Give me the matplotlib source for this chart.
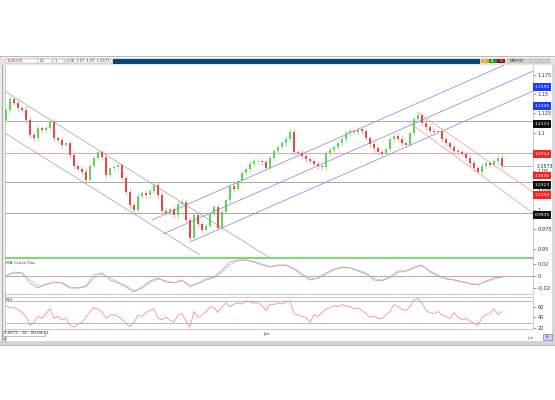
import matplotlib
matplotlib.use('Agg')
import matplotlib.pyplot as plt
from matplotlib.patches import Rectangle
from matplotlib.transforms import blended_transform_factory

# ---------------- data ----------------
first_open = 1.1164
closes = [
    1.1294, 1.1436, 1.1384, 1.1320, 1.1294, 1.1164, 1.0970, 1.0931, 1.1061, 1.1035,
    1.1061, 1.1138, 1.0931, 1.0906, 1.0841, 1.0867, 1.0712, 1.0569, 1.0530, 1.0492,
    1.0388, 1.0569, 1.0673, 1.0750, 1.0686, 1.0453, 1.0543, 1.0556, 1.0582, 1.0414,
    1.0233, 1.0065, 1.0000, 1.0181, 1.0220, 1.0194, 1.0246, 1.0323, 1.0194, 0.9987,
    0.9961, 1.0013, 0.9935, 1.0078, 1.0103, 0.9871, 0.9638, 0.9935, 0.9819, 0.9741,
    0.9793, 0.9948, 1.0039, 0.9767, 0.9974, 1.0129, 1.0310, 1.0272, 1.0375, 1.0479,
    1.0530, 1.0595, 1.0634, 1.0634, 1.0621, 1.0543, 1.0673, 1.0763, 1.0815, 1.0867,
    1.0919, 1.1009, 1.0750, 1.0737, 1.0699, 1.0660, 1.0634, 1.0595, 1.0569, 1.0556,
    1.0737, 1.0776, 1.0815, 1.0867, 1.0919, 1.0996, 1.1022, 1.1009, 1.1048, 1.1022,
    1.0931, 1.0854, 1.0802, 1.0750, 1.0724, 1.0789, 1.0919, 1.0957, 1.0919, 1.0867,
    1.0841, 1.0996, 1.1177, 1.1229, 1.1126, 1.1074, 1.1022, 1.1009, 1.1022, 1.0919,
    1.0867, 1.0815, 1.0763, 1.0750, 1.0724, 1.0673, 1.0608, 1.0543, 1.0492, 1.0569,
    1.0608, 1.0582, 1.0634, 1.0673, 1.0569,
]
wick_pips = [
    30, 40, 25, 35, 30, 45, 50, 35, 40, 30, 35, 45, 40, 30, 35, 30, 45, 35, 30, 40, 45, 35, 30, 40, 35,
    45, 30, 35, 40, 30, 45, 50, 40, 35, 30, 40, 35, 30, 45, 35, 40, 30, 35, 45, 50, 40, 35, 30, 45, 40,
    35, 30, 40, 45, 35, 30, 35, 40, 30, 35, 30, 45, 40, 35, 30, 35, 40, 45, 30, 35, 50, 40, 35, 30, 35,
    40, 30, 45, 35, 30, 40, 35, 30, 35, 40, 45, 35, 30, 40, 35, 30, 45, 50, 40, 35, 30, 35, 40, 30, 45,
    35, 30, 40, 35, 30, 45, 35, 40, 30, 35, 40, 30, 45, 35, 30, 40, 35, 45, 30, 35, 40, 30, 35, 40, 45,
]
osc_main = [
    0.0, 0.0067, 0.005, -0.0117, -0.02, -0.0133, -0.01, -0.0117, -0.02, -0.02,
    -0.0167, 0.0017, 0.005, -0.0067, -0.0117, -0.0183, -0.0267, -0.0183, -0.0083, -0.0033,
    -0.01, -0.0117, -0.0067, -0.0183, -0.0117, -0.005, -0.0017, 0.01, 0.0233, 0.0267,
    0.0267, 0.0233, 0.0183, 0.015, 0.0183, 0.0183, 0.0117, 0.0017, -0.0067, -0.0033,
    0.005, 0.0117, 0.015, 0.0133, 0.0083, 0.0033, -0.0067, -0.0083, -0.0017, 0.0083,
    0.0083, 0.015, 0.0183, 0.0067, 0.0, -0.005, -0.0067, -0.01, -0.0133, -0.015,
    -0.0083, -0.0033, -0.0017,
]
osc_signal = [
    0.002, 0.004, 0.005, -0.006, -0.016, -0.015, -0.011, -0.011, -0.018, -0.020,
    -0.018, -0.004, 0.003, -0.003, -0.010, -0.016, -0.024, -0.021, -0.011, -0.005,
    -0.008, -0.011, -0.008, -0.015, -0.013, -0.007, -0.003, 0.006, 0.019, 0.025,
    0.027, 0.024, 0.020, 0.016, 0.017, 0.018, 0.013, 0.004, -0.004, -0.004,
    0.003, 0.010, 0.014, 0.014, 0.010, 0.005, -0.004, -0.007, -0.003, 0.006,
    0.008, 0.013, 0.017, 0.009, 0.002, -0.004, -0.006, -0.009, -0.012, -0.014,
    -0.010, -0.005, -0.002,
]
rsi = [
    62, 58, 58, 55, 49, 42, 25, 31, 42, 38,
    47, 56, 38, 42, 35, 38, 25, 22, 27, 31,
    40, 51, 58, 55, 51, 38, 44, 45, 42, 36,
    29, 22, 31, 44, 42, 49, 53, 56, 38, 36,
    40, 35, 31, 44, 47, 33, 22, 51, 40, 44,
    51, 60, 58, 49, 60, 67, 60, 65, 67, 65,
    71, 69, 67, 67, 62, 53, 65, 64, 67, 65,
    69, 71, 47, 44, 42, 40, 31, 45, 42, 49,
    56, 58, 62, 60, 64, 62, 60, 56, 58, 53,
    47, 40, 42, 38, 38, 45, 51, 64, 60, 55,
    53, 60, 73, 75, 67, 53, 49, 47, 51, 44,
    42, 38, 49, 40, 35, 38, 33, 29, 25, 40,
    45, 47, 56, 45, 51,
]
price_ticks = [1.175, 1.15, 1.125, 1.1, 1.05, 1.025, 1.0, 0.975, 0.95]
price_tick_labels = ['1.175', '1.15', '1.125', '1.1', '1.05', '1.025', '1', '0.975', '0.95']
gray_levels = [1.1151, 1.0362, 0.9961]
pink_levels = [1.0737]
last_price = 1.0569
last_price_label = '1.0573'
# channel lines: (index0, price0, index1, price1)
gray_channel = [(-0.75, 1.1552, 66.0, 0.9379), (-0.75, 1.1009, 48.5, 0.9418)]
blue_channel = [(36.5, 0.9871, 131.75, 1.2039), (39.25, 0.9690, 131.75, 1.1796),
                (46.0, 0.9586, 131.75, 1.1538)]
red_channel = [(102.75, 1.1268, 131.75, 1.0233), (101.0, 1.1125, 131.75, 0.9961)]
box_prices = [1.1591, 1.1345, 1.1113, 1.0724, 1.0446, 1.0323, 1.0194, 0.9935]
box_texts = ['1.1591', '1.1345', '1.1113', '1.0724', '1.0446', '1.0323', '1.0194', '0.9935']
box_colors = ['#1a3cff', '#1a3cff', '#111111', '#ff2020', '#ff2020', '#111111', '#ff2020', '#111111']
osc_ticks = [0.02, 0.0, -0.02]
osc_tick_labels = ['0.02', '0', '-0.02']
rsi_levels = [70, 30]
rsi_ticks = [60, 40, 20]
rsi_tick_labels = ['60', '40', '20']

# ---------------- figure ----------------
W, H = 555, 400
fig = plt.figure(figsize=(W / 100, H / 100), dpi=100)
fig.patch.set_facecolor('white')


def frect(x0, y0, x1, y1, z=-10, **kw):
    fig.patches.append(Rectangle((x0 / W, 1 - y1 / H), (x1 - x0) / W, (y1 - y0) / H,
                                 transform=fig.transFigure, figure=fig, zorder=z, **kw))


def ftext(x, y, s, **kw):
    fig.text(x / W, 1 - y / H, s, zorder=20, **kw)


def fvline(x, y0, y1, color, lw):
    fig.lines.append(plt.Line2D([x / W, x / W], [1 - y0 / H, 1 - y1 / H], transform=fig.transFigure,
                                color=color, lw=lw, zorder=-9))


# window chrome
frect(0, 56, 555, 345, facecolor='#f4f4f4', edgecolor='#b0b0b0', lw=0.6)
frect(0, 57.5, 555, 64.5, facecolor='#e2e2e2', edgecolor='none')
frect(113, 59, 480, 63.5, facecolor='#0b4476', edgecolor='none')
for (a, b, t, col) in [(6, 38, 'EURUSD', '#cc2222'), (38, 52, 'D1', '#333333'),
                       (53, 64, '1', '#333333'), (65, 112, '1.08  1.07  1.07  1.0577', '#333333')]:
    frect(a, 59.3, b, 63.3, facecolor='white', edgecolor='#a0a0a0', lw=0.3)
    ftext(a + 1.5, 61.3, t, fontsize=2.6, color=col, va='center', ha='left')
for (a, col, t) in [(481, '#f0a030', 'F'), (489, '#2f8f2f', 'A'), (497, '#8a1818', 'H')]:
    frect(a, 59.3, a + 7.5, 63.3, facecolor=col, edgecolor='none')
    ftext(a + 3.7, 61.3, t, fontsize=2.6, color='white', va='center', ha='center')
frect(507, 59.3, 527, 63.3, facecolor='#d8d8d8', edgecolor='#a0a0a0', lw=0.3)
ftext(517, 61.3, 'MATRIX', fontsize=2.8, color='#333333', va='center', ha='center')
frect(529, 59.3, 539, 63.3, facecolor='#d0d0d0', edgecolor='#a0a0a0', lw=0.3)
frect(540, 59.3, 550, 63.3, facecolor='#d0d0d0', edgecolor='#a0a0a0', lw=0.3)
# chart background
frect(5, 64.5, 552, 341, facecolor='white', edgecolor='none')
frect(0, 64.5, 5, 341, facecolor='#ececec', edgecolor='none')
frect(552, 64.5, 555, 341, facecolor='#d8d8d8', edgecolor='none')
fvline(1.5, 64.5, 341, '#9a9a9a', 0.6)
fvline(5, 64.5, 341, '#9a9a9a', 0.6)
frect(0, 340.5, 555, 345, facecolor='#d4d4d4', edgecolor='none')

XL, XR = 5, 533
xmin, xmax = -0.25, 131.75


def make_ax(y0, y1):
    ax = fig.add_axes([XL / W, 1 - y1 / H, (XR - XL) / W, (y1 - y0) / H])
    ax.set_zorder(5)
    ax.set_facecolor('white')
    ax.set_xlim(xmin, xmax)
    ax.set_xticks([])
    ax.yaxis.tick_right()
    ax.tick_params(axis='y', direction='out', length=2, width=0.4, labelsize=3.6,
                   colors='#555555', labelcolor='#333333', pad=1.5)
    for s in ax.spines.values():
        s.set_color('#b8b8b8')
        s.set_linewidth(0.5)
    return ax


# ---------------- main price panel ----------------
ax = make_ax(65, 257)
ax.set_ylim(0.9392, 1.18758)
ax.set_yticks(price_ticks)
ax.set_yticklabels(price_tick_labels)
ax.spines['bottom'].set_color('#7fd67f')
ax.spines['bottom'].set_linewidth(0.8)
ax.spines['top'].set_visible(False)

for lv in gray_levels:
    ax.axhline(lv, color='#a8a8a8', lw=0.7, zorder=1)
for lv in pink_levels:
    ax.axhline(lv, color='#f4a0a0', lw=0.7, zorder=1)
for (i0, p0, i1, p1) in gray_channel:
    ax.plot([i0, i1], [p0, p1], color='#a8a8a8', lw=0.55, zorder=1)
for (i0, p0, i1, p1) in blue_channel:
    ax.plot([i0, i1], [p0, p1], color='#8a8af0', lw=0.55, zorder=1)
for (i0, p0, i1, p1) in red_channel:
    ax.plot([i0, i1], [p0, p1], color='#f2a0a0', lw=0.55, zorder=1)

for i, c in enumerate(closes):
    o = first_open if i == 0 else closes[i - 1]
    up = c >= o
    col = '#5ad65a' if up else '#e84848'
    wcol = '#a8e8a8' if up else '#f2a8a8'
    lo, hi = min(o, c), max(o, c)
    w = wick_pips[i] / 10000.0
    ax.vlines(i, lo - w, hi + w, color=wcol, lw=0.6, zorder=2)
    ax.add_patch(Rectangle((i - 0.26, lo), 0.52, max(hi - lo, 0.0005), facecolor=col,
                           edgecolor='none', zorder=3))

n = len(closes)
ax.hlines(last_price, n - 1, xmax, color='#a0a0a0', lw=0.5, zorder=1)

tr = blended_transform_factory(ax.transAxes, ax.transData)
for p, t, col in zip(box_prices, box_texts, box_colors):
    ax.text(1.003, p, t, transform=tr, fontsize=3.2, color='white', va='center', ha='left',
            bbox=dict(boxstyle='square,pad=0.35', facecolor=col, edgecolor='none'), clip_on=False,
            zorder=10)
ax.text(1.006, last_price, last_price_label, transform=tr, fontsize=3.4, color='#333333',
        va='center', ha='left', clip_on=False)

# ---------------- MA Cross Osc ----------------
ax2 = make_ax(258, 294)
ax2.set_ylim(-0.03, 0.03)
ax2.set_yticks(osc_ticks)
ax2.set_yticklabels(osc_tick_labels)
ax2.spines['top'].set_color('#7fd67f')
ax2.spines['top'].set_linewidth(0.8)
ax2.axhline(0.0, color='#c89090', lw=0.6)
xo = [2 * k for k in range(len(osc_main))]
ax2.plot(xo, osc_signal, color='#7fe3e3', lw=0.6)
ax2.plot(xo, osc_main, color='#f29090', lw=0.6)
ax2.text(0.002, 0.93, 'MA Cross Osc', transform=ax2.transAxes, fontsize=3.2, color='#444444',
         va='top', ha='left')

# ---------------- RSI ----------------
ax3 = make_ax(297, 329)
ax3.set_ylim(18.2, 78.2)
ax3.set_yticks(rsi_ticks)
ax3.set_yticklabels(rsi_tick_labels)
for lv in rsi_levels:
    ax3.axhline(lv, color='#b0b0b0', lw=0.6)
ax3.plot(range(len(rsi)), rsi, color='#f29090', lw=0.6)
ax3.text(0.002, 0.97, 'RSI', transform=ax3.transAxes, fontsize=3.2, color='#444444',
         va='top', ha='left')

# ---------------- bottom status / time axis ----------------
frect(2.5, 330.5, 45, 335.5, z=15, facecolor='white', edgecolor='#909090', lw=0.4)
ftext(4, 333, '1.0577 - 10 - 00:04:13', fontsize=2.9, color='#222222', va='center', ha='left')
ftext(3, 338.5, 'sel', fontsize=2.6, color='#555555', va='center', ha='left')
ftext(267, 334, 'Jan', fontsize=3.2, color='#444444', va='center', ha='center')
ftext(530, 338, 'Jun', fontsize=2.8, color='#555555', va='center', ha='center')
frect(543, 333.5, 552, 339.5, z=15, facecolor='#c8d4ee', edgecolor='#5070b0', lw=0.4)
ftext(547.5, 336.5, 'Fr', fontsize=2.6, color='#1a3a8a', va='center', ha='center')

fig.savefig('out.png', dpi=100, facecolor='white')
